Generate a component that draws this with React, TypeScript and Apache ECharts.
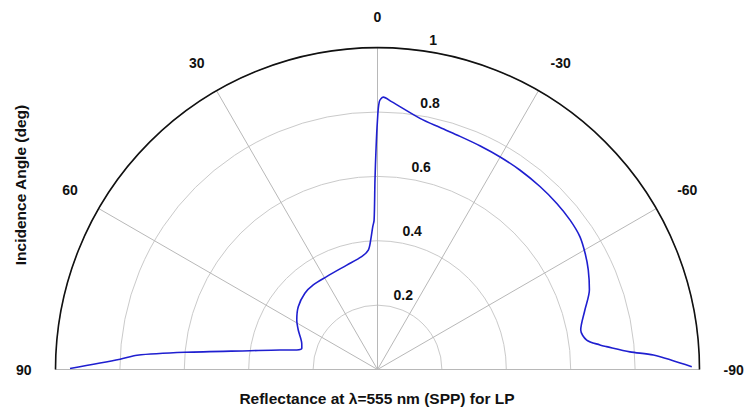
import React, { useEffect, useRef } from "react";
import * as echarts from "echarts";

// Angle ticks (deg) and radial ticks
const angleTicks = [90, 60, 30, 0, -30, -60, -90];
const radialTicks = [0.2, 0.4, 0.6, 0.8, 1];

// Curve: incidence angle (deg, +left) and reflectance
const curveAngle = [
  89.8, 87.7, 86.6, 84.9, 81.6, 78.7, 76.4, 74.4, 70.9, 63.5, 58.5, 51.6, 43.6,
  37.2, 28.7, 16.4, 8.0, 4.4, 3.0, 1.9, 1.3, 0.76, 0.39, 0.05, -0.39, -1.22,
  -3.0, -9.6, -14.5, -19.5, -24.7, -30.1, -35.5, -41.6, -47.2, -52.2, -56.7,
  -60.75, -64.7, -69.4, -74.0, -79.0, -82.0, -83.7, -84.3, -86.0, -87.0, -89.5,
];
const curveReflectance = [
  0.955, 0.8, 0.748, 0.6, 0.4, 0.309, 0.258, 0.244, 0.249, 0.275, 0.294, 0.314,
  0.327, 0.33, 0.329, 0.338, 0.354, 0.372, 0.403, 0.444, 0.464, 0.589, 0.682,
  0.765, 0.832, 0.846, 0.833, 0.791, 0.776, 0.768, 0.764, 0.762, 0.761, 0.76,
  0.759, 0.757, 0.752, 0.739, 0.724, 0.703, 0.67, 0.643, 0.656, 0.695, 0.715,
  0.786, 0.858, 0.976,
];

const xTitle = "Reflectance at λ=555 nm (SPP) for LP";
const yTitle = "Incidence Angle (deg)";
const FONT = "Arial, 'Liberation Sans', sans-serif";

export default function App() {
  const ref = useRef<HTMLDivElement>(null);
  useEffect(() => {
    if (!ref.current) return;
    const chart = echarts.init(ref.current, undefined, { renderer: "svg" });
    const labelAngle = -8;
    chart.setOption({
      animation: false,
      backgroundColor: "#ffffff",
      polar: { center: [377.5, 369.5], radius: 322 },
      angleAxis: {
        type: "value",
        min: -90,
        max: 90,
        interval: 30,
        startAngle: 0,
        endAngle: 180,
        clockwise: false,
        axisLine: { show: true, lineStyle: { color: "#111", width: 1.6 } },
        axisTick: { show: false },
        axisLabel: {
          show: true,
          margin: 24,
          color: "#111",
          fontSize: 14,
          fontWeight: "bold",
          fontFamily: FONT,
          formatter: (v: number) => (angleTicks.includes(v) ? String(v) : ""),
        },
        splitLine: { show: true, lineStyle: { color: "#b8b8b8", width: 1 } },
      },
      radiusAxis: {
        type: "value",
        min: 0,
        max: 1,
        interval: 0.2,
        axisLine: { show: false },
        axisTick: { show: false },
        axisLabel: { show: false },
        splitLine: { show: true, lineStyle: { color: "#cacaca", width: 1 } },
      },
      series: [
        {
          type: "line",
          coordinateSystem: "polar",
          data: curveAngle.map((a, i) => [curveReflectance[i], a]),
          symbol: "none",
          smooth: 0.3,
          lineStyle: { color: "#1f1fd0", width: 1.6 },
          z: 5,
        },
        {
          type: "scatter",
          coordinateSystem: "polar",
          data: radialTicks.map((r) => [r, labelAngle]),
          symbolSize: 0,
          silent: true,
          itemStyle: { opacity: 1 },
          label: {
            show: true,
            position: "right",
            distance: 7,
            offset: [0, -11],
            color: "#111",
            opacity: 1,
            fontSize: 14,
            fontWeight: "bold",
            fontFamily: FONT,
            formatter: (p: any) => String(radialTicks[p.dataIndex]),
          },
          z: 6,
        },
      ],
      graphic: [
        {
          type: "text",
          x: 377,
          y: 398,
          style: {
            text: xTitle,
            fill: "#111",
            font: `bold 15.5px ${FONT}`,
            textAlign: "center",
            textVerticalAlign: "middle",
          },
        },
        {
          type: "text",
          x: 20,
          y: 185,
          rotation: Math.PI / 2,
          style: {
            text: yTitle,
            fill: "#111",
            font: `bold 15.5px ${FONT}`,
            textAlign: "center",
            textVerticalAlign: "middle",
          },
        },
      ],
    });
    return () => chart.dispose();
  }, []);
  return (
    <div
      ref={ref}
      style={{ position: "absolute", left: 0, top: 0, width: 745, height: 410 }}
    />
  );
}
